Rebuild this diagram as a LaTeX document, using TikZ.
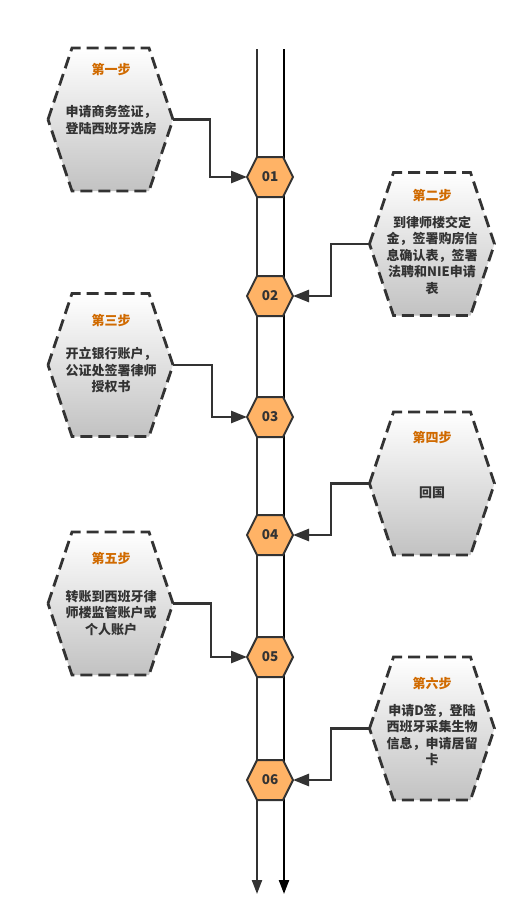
\documentclass[tikz,border=0pt]{standalone}
\usepackage{fontspec}
\newfontfamily\cjk{Noto Sans CJK SC}
\usetikzlibrary{arrows.meta}
\definecolor{ink}{HTML}{333333}
\definecolor{hexorange}{HTML}{FFB366}
\definecolor{titleorange}{HTML}{D06A00}
\definecolor{shadetop}{HTML}{FFFFFF}
\definecolor{shadebot}{HTML}{C2C2C2}
\pgfdeclarelayer{back}
\pgfdeclarelayer{mid}
\pgfsetlayers{back,mid,main}
\tikzset{
  box/.style={minimum width=125pt, minimum height=143pt, inner sep=0pt, outer sep=0pt},
  chip/.style={minimum width=46pt, minimum height=40pt, inner sep=0pt, outer sep=0pt,
    font=\cjk\bfseries\fontsize{13.5}{13.5}\selectfont, text=ink},
  steptitle/.style={font=\cjk\bfseries\fontsize{13}{15}\selectfont, text=titleorange, inner sep=0pt},
  stepbody/.style={font=\cjk\bfseries\fontsize{13}{16.5}\selectfont, text=ink, align=center, inner sep=0pt},
  dashhex/.style={draw=ink, line width=2.8pt, dash pattern=on 12pt off 6pt,
    top color=shadetop, bottom color=shadebot, line join=miter},
  chiphex/.style={draw=ink, line width=2pt, fill=hexorange, line join=miter},
  link/.style={draw=ink, line width=2.6pt, -{Triangle[length=16pt,width=12pt]}},
  rail/.style={line width=2.2pt, -{Triangle[length=14pt,width=10pt]}},
}
\newcommand\hexat[3]{\path[#1] (#2.west) -- ([xshift=#3]#2.north west) -- ([xshift=-#3]#2.north east) -- (#2.east) -- ([xshift=-#3]#2.south east) -- ([xshift=#3]#2.south west) -- cycle;}
\begin{document}
\begin{tikzpicture}[x=1pt,y=-1pt]
\useasboundingbox (0,0) rectangle (527,924);
% rails
\coordinate (tl) at (257,49);
\coordinate (tr) at (284,49);
\coordinate (bl) at (257,894);
\coordinate (br) at (284,894);
% step boxes
\node[box] (s1) at (110.5,119.5) {};
\node[box] (s2) at (432,244) {};
\node[box] (s3) at (110.5,365) {};
\node[box] (s4) at (432,483.5) {};
\node[box] (s5) at (110.5,603.5) {};
\node[box] (s6) at (432,728.5) {};
% chips
\node[chip] (n1) at (270,177) {01};
\node[chip] (n2) at (270,296) {02};
\node[chip] (n3) at (270,417) {03};
\node[chip] (n4) at (270,535) {04};
\node[chip] (n5) at (270,657) {05};
\node[chip] (n6) at (270,780) {06};
\begin{pgfonlayer}{back}
  \draw[rail, ink] (tl) -- (bl);
  \draw[rail, black] (tr) -- (br);
\end{pgfonlayer}
\begin{pgfonlayer}{mid}
  \foreach \s in {s1,s2,s3,s4,s5,s6} {\hexat{dashhex}{\s}{24pt}}
  \foreach \n in {n1,n2,n3,n4,n5,n6} {\hexat{chiphex}{\n}{10pt}}
\end{pgfonlayer}
% texts
\node[steptitle] (s1t) at (111,69) {第一步};
\node[stepbody] (s1b) at (111,120) {申请商务签证，\\登陆西班牙选房};
\node[steptitle] (s2t) at (432,195) {第二步};
\node[stepbody] (s2b) at (432,255) {到律师楼交定\\金，签署购房信\\息确认表，签署\\法聘和NIE申请\\表};
\node[steptitle] (s3t) at (111,320) {第三步};
\node[stepbody] (s3b) at (111,370) {开立银行账户，\\公证处签署律师\\授权书};
\node[steptitle] (s4t) at (432,437) {第四步};
\node[stepbody] (s4b) at (432,493) {回国};
\node[steptitle] (s5t) at (111,558) {第五步};
\node[stepbody] (s5b) at (111,613) {转账到西班牙律\\师楼监管账户或\\个人账户};
\node[steptitle] (s6t) at (432,683) {第六步};
\node[stepbody] (s6b) at (432,735) {申请D签，登陆\\西班牙采集生物\\信息，申请居留\\卡};
% connectors
\draw[link] (s1.east) -- ++(37,0) |- (n1.west);
\draw[link] (s2.west) -- ++(-38.5,0) |- (n2.east);
\draw[link] (s3.east) -- ++(39,0) |- (n3.west);
\draw[link] (s4.west) -- ++(-38.5,0) |- (n4.east);
\draw[link] (s5.east) -- ++(38,0) |- (n5.west);
\draw[link] (s6.west) -- ++(-38.5,0) |- (n6.east);
\end{tikzpicture}
\end{document}
